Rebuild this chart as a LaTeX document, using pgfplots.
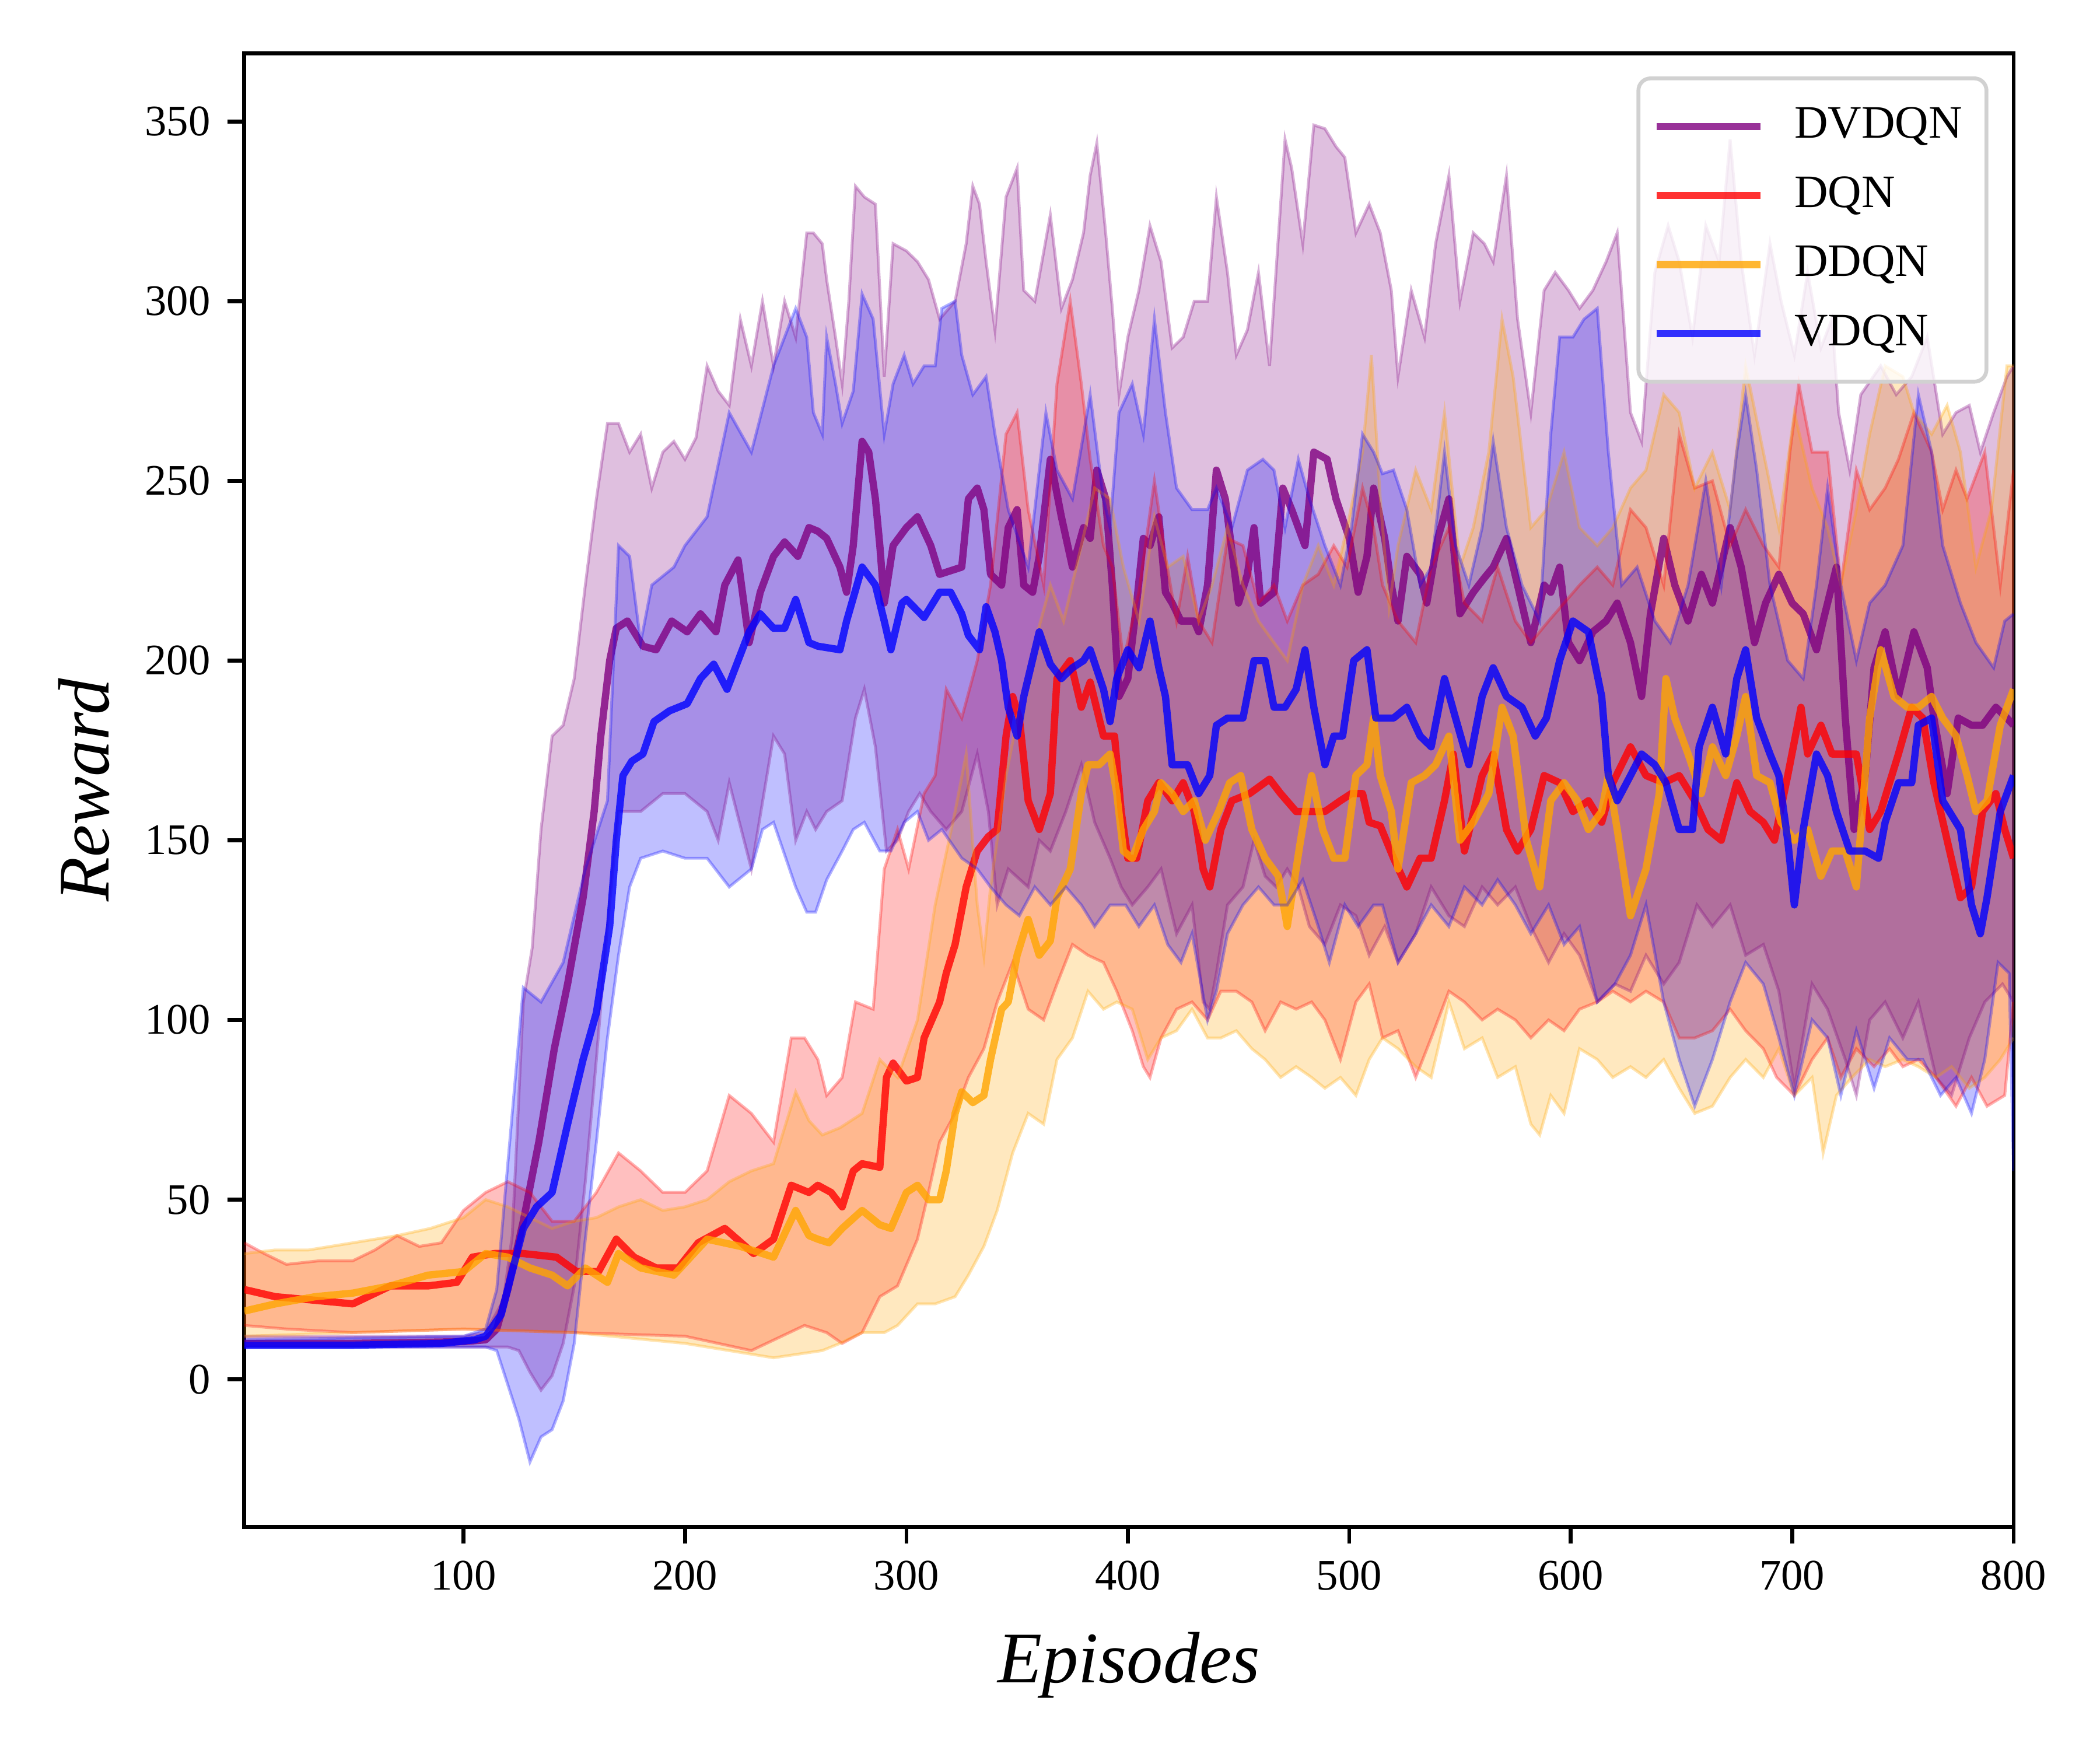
\documentclass[border=0pt]{standalone}
\usepackage{fontspec}
\setmainfont{Liberation Serif}
\usepackage{pgfplots}
\pgfplotsset{compat=1.18}
\usepgfplotslibrary{fillbetween}
\definecolor{cpur}{HTML}{800080}
\definecolor{cred}{HTML}{FF0000}
\definecolor{cora}{HTML}{FFA500}
\definecolor{cblu}{HTML}{0000FF}
\pgfplotsset{
  band/.style={draw=#1, draw opacity=0.3, line width=0.6pt, forget plot},
  bandfill/.style={fill=#1, fill opacity=0.25, draw=none, forget plot},
  meanline/.style={draw=#1, draw opacity=0.8, line width=1.5pt, line join=round},
}
\begin{document}
\begin{tikzpicture}
\begin{axis}[
  at={(0,0)}, anchor=south west,
  scale only axis, width=5.055in, height=4.21in,
  xmin=1, xmax=800, ymin=-41, ymax=369,
  xtick={100,200,...,800}, ytick={0,50,...,350},
  tick align=outside, xtick pos=bottom, ytick pos=left,
  major tick length=3.5pt,
  axis line style={line width=0.8pt},
  every tick/.style={line width=0.8pt, black},
  tick label style={font=\fontsize{9}{10}\selectfont},
  /pgf/number format/assume math mode=true,
  xlabel={\textit{Episodes}}, ylabel={\textit{Reward}},
  label style={font=\fontsize{15}{17}\selectfont},
  xlabel style={at={(axis description cs:0.5,-0.094)}, anchor=center},
  ylabel style={at={(axis description cs:-0.0905,0.5)}, anchor=center},
  legend style={at={(1,1)}, anchor=north east, xshift=-5.2pt, yshift=-4.8pt,
    draw=black!18, line width=0.8pt, rounded corners=2.5pt,
    fill=white, fill opacity=0.8, draw opacity=1, text opacity=1,
    font=\fontsize{9.6}{11}\selectfont, row sep=2.4pt, inner xsep=3pt, inner ysep=4pt},
  legend cell align=left,
  legend image code/.code={\draw[#1] (0pt,0pt) -- (21.5pt,0pt); \path (25.7pt,0pt);},
]
% ---------------- DVDQN ----------------
\addplot[band=cpur, name path=pu] coordinates {
(1,12)(50,12)(100,12)(110,13)(118,22)(122,40)(127,105)(131,120)(135,153)(140,179)(145,182)(150,195)(155,221)(160,245)(165,266)(170,266)(175,258)(180,263)(185,248)(190,258)(195,261)(200,256)(205,262)(210,282)(215,275)(220,271)(225,295)(230,282)(235,300)(240,282)(245,300)(250,290)(255,319)(258,319)(262,316)(264,306)(268,290)(271,277)(274,300)(277,332)(281,329)(286,327)(290,279)(294,316)(300,314)(305,311)(310,306)(315,295)(322,300)(327,316)(330,332)(333,327)(336,311)(340,292)(345,329)(350,337)(353,303)(358,300)(365,324)(370,298)(375,306)(380,319)(383,335)(386,344)(390,319)(393,298)(396,274)(400,290)(405,303)(410,321)(415,311)(420,287)(425,290)(430,300)(436,300)(440,329)(445,308)(449,285)(454,292)(459,308)(464,282)(471,345)(474,337)(479,316)(484,349)(489,348)(494,343)(498,340)(503,319)(509,327)(514,319)(519,303)(522,279)(528,303)(534,290)(539,316)(545,335)(550,300)(556,319)(561,316)(565,311)(571,335)(576,295)(582,269)(588,303)(593,308)(599,303)(604,298)(610,303)(616,311)(621,319)(627,269)(632,261)(638,308)(644,321)(649,311)(655,290)(661,321)(667,311)(672,345)(677,311)(683,285)(690,316)(695,300)(701,285)(707,308)(713,287)(718,295)(721,269)(726,253)(731,274)(740,282)(747,274)(754,279)(761,290)(768,263)(774,269)(780,271)(785,258)(791,269)(797,279)(800,282)
};
\addplot[band=cpur, name path=pl] coordinates {
(1,9)(100,9)(120,9)(125,8)(130,2)(135,-3)(140,1)(145,10)(150,26)(155,55)(160,89)(165,126)(170,158)(180,158)(190,163)(200,163)(210,158)(215,150)(220,166)(230,142)(240,179)(245,174)(250,150)(255,158)(259,153)(264,158)(271,161)(277,184)(281,192)(286,176)(291,147)(296,150)(301,158)(306,163)(311,158)(318,153)(325,158)(332,174)(337,158)(341,132)(346,142)(355,137)(360,150)(365,147)(372,158)(379,171)(385,155)(392,145)(397,137)(402,132)(409,137)(415,142)(422,124)(429,132)(434,105)(437,103)(440,113)(445,132)(452,137)(457,150)(462,140)(467,137)(472,142)(477,137)(482,126)(489,121)(496,132)(503,129)(509,118)(516,126)(522,116)(530,124)(537,137)(545,129)(552,126)(560,137)(567,132)(575,137)(582,126)(590,116)(597,124)(604,118)(612,105)(620,110)(627,108)(634,118)(642,110)(649,116)(657,132)(664,126)(672,132)(679,118)(687,121)(694,108)(701,81)(709,110)(716,103)(724,89)(729,79)(735,100)(742,105)(750,95)(757,105)(765,84)(772,79)(780,95)(787,105)(795,110)(800,105)
};
\addplot[bandfill=cpur] fill between[of=pu and pl];
\addplot[meanline=cpur] coordinates {
(1,10)(50,10)(100,10.5)(110,11)(115,14)(120,25)(127,44)(134,66)(141,92)(147,110)(154,134)(159,158)(162,179)(166,200)(169,209)(174,211)(181,204)(187,203)(194,211)(201,208)(207,213)(214,208)(218,221)(224,228)(229,205)(234,219)(240,229)(245,233)(251,229)(256,237)(260,236)(264,234)(270,226)(273,219)(276,232)(280,261)(283,258)(286,245)(288,232)(290,216)(294,232)(300,237)(305,240)(311,232)(315,224)(320,225)(325,226)(328,245)(332,248)(335,242)(338,224)(343,221)(346,237)(350,242)(353,221)(357,219)(360,229)(365,256)(370,240)(375,226)(380,237)(383,234)(386,253)(390,245)(393,221)(396,190)(400,195)(404,216)(407,234)(410,232)(414,240)(417,219)(420,216)(424,211)(430,211)(432,208)(436,221)(440,253)(444,245)(450,216)(454,224)(457,237)(460,216)(466,219)(470,248)(474,242)(480,232)(484,258)(490,256)(494,245)(500,234)(504,219)(508,229)(511,248)(516,234)(519,221)(522,211)(526,229)(532,224)(535,216)(540,234)(545,245)(550,213)(556,219)(561,223)(565,226)(571,234)(576,221)(582,205)(588,221)(591,219)(595,226)(599,205)(604,200)(610,208)(616,211)(621,216)(627,205)(632,190)(636,213)(642,234)(647,221)(653,211)(659,224)(664,216)(672,237)(677,226)(683,205)(688,216)(694,224)(700,216)(705,213)(711,203)(714,211)(720,226)(724,184)(728,153)(733,168)(737,198)(742,208)(748,190)(755,208)(761,198)(764,184)(770,163)(775,184)(781,182)(786,182)(792,187)(797,184)(800,182)
};
\addlegendentry{DVDQN}
% ---------------- DQN ----------------
\addplot[band=cred, name path=ru] coordinates {
(1,38)(10,35)(20,32)(35,33)(50,33)(60,36)(70,40)(80,37)(90,38)(100,47)(110,52)(120,55)(130,52)(140,44)(150,44)(160,52)(170,63)(180,58)(190,52)(200,52)(210,58)(220,79)(230,74)(240,66)(248,95)(254,95)(260,89)(264,79)(271,84)(277,105)(285,103)(290,142)(296,153)(301,142)(308,163)(313,168)(318,192)(325,184)(332,200)(338,221)(345,263)(350,269)(355,242)(362,221)(368,277)(374,300)(379,277)(383,256)(389,232)(393,226)(398,200)(405,219)(412,250)(417,229)(422,211)(427,229)(432,211)(438,205)(445,234)(452,232)(459,216)(466,221)(472,211)(479,221)(486,224)(493,232)(499,226)(506,248)(511,237)(515,221)(522,211)(530,205)(537,226)(545,237)(552,216)(560,211)(567,226)(575,211)(582,205)(590,211)(597,216)(604,221)(612,226)(619,221)(627,242)(634,237)(642,221)(649,263)(656,248)(664,250)(672,232)(679,242)(687,232)(694,226)(699,258)(703,277)(709,258)(716,258)(722,221)(729,253)(735,242)(742,248)(748,256)(755,269)(763,258)(768,242)(774,253)(779,245)(787,258)(794,221)(800,253)
};
\addplot[band=cred, name path=rl] coordinates {
(1,15)(20,14)(50,13)(100,14)(150,13)(200,12)(230,8)(254,15)(264,13)(271,10)(280,13)(288,23)(296,26)(305,39)(310,52)(315,66)(322,74)(328,84)(335,92)(341,105)(348,116)(355,103)(362,100)(368,110)(375,121)(382,118)(389,116)(395,108)(402,97)(407,87)(410,84)(415,95)(422,103)(429,105)(436,100)(442,108)(449,108)(456,105)(462,97)(469,105)(476,103)(483,105)(489,100)(496,89)(503,105)(509,110)(515,95)(522,97)(530,84)(537,95)(545,108)(552,105)(560,100)(567,103)(575,100)(582,95)(590,100)(597,97)(604,103)(612,105)(619,108)(627,105)(634,108)(642,105)(649,95)(656,95)(664,97)(672,103)(679,97)(687,92)(693,84)(701,79)(709,89)(716,95)(722,84)(729,92)(737,87)(744,92)(750,87)(757,89)(765,84)(774,76)(781,84)(788,76)(796,79)(800,105)
};
\addplot[bandfill=cred] fill between[of=ru and rl];
\addplot[meanline=cred] coordinates {
(1,25)(15,23)(33,22)(50,21)(67,26)(84,26)(97,27)(104,34)(114,35)(127,35)(142,34)(151,30)(161,30)(169,39)(177,34)(187,31)(197,31)(206,38)(218,42)(231,35)(240,39)(248,54)(256,52)(260,54)(266,52)(271,48)(276,58)(280,60)(288,59)(291,84)(294,88)(300,83)(305,84)(308,95)(315,105)(318,113)(322,121)(327,137)(332,147)(337,151)(341,153)(345,179)(348,190)(351,184)(355,161)(360,153)(365,163)(368,195)(374,200)(379,187)(383,194)(389,179)(394,179)(397,158)(400,145)(404,145)(409,161)(414,166)(420,161)(425,166)(430,158)(434,142)(437,137)(442,153)(447,161)(455,163)(464,167)(469,163)(476,158)(483,158)(489,158)(496,161)(501,163)(506,163)(509,155)(514,154)(520,145)(526,137)(532,145)(537,145)(543,161)(547,174)(552,147)(560,168)(565,174)(571,153)(576,147)(582,153)(588,168)(595,166)(601,158)(608,161)(614,155)(619,166)(627,176)(634,168)(642,166)(649,168)(656,161)(662,153)(668,150)(675,166)(681,158)(687,155)(692,150)(698,168)(704,187)(707,174)(713,182)(718,174)(724,174)(729,174)(735,153)(740,158)(748,174)(754,187)(759,184)(764,166)(770,150)(776,134)(781,137)(786,158)(792,163)(796,153)(800,145)
};
\addlegendentry{DQN}
% ---------------- DDQN ----------------
\addplot[band=cora, name path=ou] coordinates {
(1,35)(15,36)(30,36)(50,38)(70,40)(85,42)(100,45)(110,50)(120,48)(130,45)(140,42)(150,44)(160,45)(170,48)(180,50)(190,47)(200,48)(210,50)(220,55)(230,58)(240,60)(250,80)(256,72)(262,68)(270,70)(280,74)(288,89)(296,84)(305,100)(313,132)(322,158)(327,174)(332,132)(335,118)(338,137)(345,168)(351,187)(358,205)(365,221)(371,211)(379,232)(385,248)(392,245)(398,226)(405,211)(412,240)(418,226)(425,229)(432,211)(438,221)(445,237)(452,221)(459,211)(466,205)(472,200)(479,221)(486,232)(493,221)(499,237)(506,258)(510,285)(514,245)(518,215)(522,232)(530,253)(537,242)(543,269)(550,226)(556,237)(563,258)(569,295)(574,279)(582,237)(589,242)(597,258)(604,237)(612,232)(619,237)(627,248)(634,253)(642,274)(649,269)(656,248)(664,258)(672,242)(679,282)(687,258)(694,237)(701,269)(709,248)(716,237)(722,221)(729,242)(735,263)(742,282)(750,279)(755,269)(763,263)(770,271)(776,258)(783,226)(790,242)(797,282)(800,282)
};
\addplot[band=cora, name path=ol] coordinates {
(1,12)(50,13)(100,14)(150,13)(200,10)(240,6)(262,8)(270,10)(280,13)(290,13)(296,15)(305,21)(313,21)(322,23)(328,29)(335,37)(341,47)(348,63)(355,74)(362,71)(368,89)(375,95)(382,108)(389,103)(395,105)(402,103)(409,89)(415,95)(422,97)(429,103)(436,95)(442,95)(449,97)(456,92)(462,89)(469,84)(476,87)(483,84)(489,81)(496,84)(503,79)(509,89)(515,95)(522,92)(530,87)(537,84)(545,105)(552,92)(560,95)(567,84)(575,87)(582,71)(586,68)(591,79)(597,74)(604,92)(612,89)(619,84)(627,87)(634,84)(642,89)(649,81)(656,74)(664,76)(672,84)(679,89)(687,84)(694,92)(701,79)(709,84)(714,63)(720,79)(727,84)(735,89)(742,87)(750,89)(757,87)(765,84)(772,87)(780,81)(787,84)(794,89)(800,95)
};
\addplot[bandfill=cora] fill between[of=ou and ol];
\addplot[meanline=cora] coordinates {
(1,19)(15,21)(33,23)(50,24)(67,26)(84,29)(100,30)(110,35)(120,34)(130,31)(140,29)(147,26)(155,31)(165,27)(170,35)(180,31)(195,29)(210,39)(225,37)(240,34)(250,47)(256,40)(260,39)(265,38)(271,42)(280,47)(288,43)(293,42)(300,52)(305,54)(310,50)(315,50)(318,58)(322,74)(325,80)(330,77)(335,79)(338,89)(343,103)(346,105)(350,118)(355,128)(360,118)(365,122)(368,134)(374,142)(379,163)(382,171)(387,171)(392,174)(395,163)(398,147)(402,145)(407,153)(412,158)(415,166)(420,163)(425,158)(430,161)(435,150)(441,158)(446,166)(451,168)(456,153)(462,145)(468,140)(472,126)(478,150)(483,168)(488,153)(493,145)(498,145)(503,168)(508,171)(511,184)(514,168)(519,158)(522,142)(528,166)(534,168)(539,171)(545,179)(550,150)(556,155)(563,163)(569,187)(574,179)(580,150)(586,137)(591,161)(597,166)(603,161)(608,153)(614,158)(617,168)(621,153)(627,129)(634,142)(640,163)(643,195)(647,184)(653,174)(659,163)(664,176)(670,168)(675,179)(679,190)(684,168)(690,166)(695,155)(701,150)(707,153)(713,140)(718,147)(724,147)(729,137)(735,184)(740,203)(746,190)(752,187)(757,187)(763,190)(768,184)(774,179)(779,168)(783,158)(788,161)(794,182)(800,192)
};
\addlegendentry{DDQN}
% ---------------- VDQN ----------------
\addplot[band=cblu, name path=bu] coordinates {
(1,11)(100,12)(110,14)(115,25)(120,60)(127,109)(135,105)(145,116)(155,142)(165,161)(170,232)(175,229)(180,205)(185,221)(195,226)(200,232)(210,240)(220,269)(230,258)(240,282)(250,298)(255,290)(258,269)(262,263)(264,290)(268,277)(271,266)(276,275)(280,302)(285,295)(290,263)(294,277)(299,285)(303,277)(308,282)(313,282)(316,298)(322,300)(325,285)(330,274)(336,279)(340,263)(346,242)(355,226)(360,253)(363,269)(368,253)(375,245)(380,263)(383,274)(389,245)(392,237)(396,269)(402,277)(407,263)(412,295)(417,269)(422,248)(429,242)(436,242)(440,248)(447,237)(454,253)(461,256)(466,253)(471,237)(477,256)(482,245)(489,232)(496,221)(501,237)(506,263)(511,258)(515,252)(520,253)(526,242)(532,221)(537,226)(543,258)(548,232)(554,221)(560,237)(565,261)(571,237)(578,221)(586,211)(591,263)(595,290)(601,290)(606,295)(612,298)(617,258)(623,221)(630,226)(638,211)(645,205)(653,221)(661,250)(668,221)(675,258)(679,274)(684,253)(690,221)(698,200)(705,195)(711,221)(716,248)(722,221)(729,200)(735,216)(742,221)(750,232)(757,274)(763,258)(768,232)(776,216)(783,205)(791,198)(796,211)(800,213)
};
\addplot[band=cblu, name path=bl] coordinates {
(1,9)(110,9)(115,8)(125,-11)(130,-23)(135,-16)(140,-14)(145,-6)(150,10)(155,39)(160,66)(165,95)(170,118)(175,137)(180,145)(190,147)(200,145)(210,145)(220,137)(230,142)(235,153)(240,155)(250,137)(255,130)(259,130)(264,139)(271,147)(276,153)(281,155)(288,147)(293,147)(299,155)(305,158)(310,150)(316,153)(325,145)(332,142)(338,137)(345,132)(351,129)(358,137)(365,132)(372,137)(379,132)(385,126)(392,132)(399,132)(405,126)(412,132)(418,121)(424,116)(429,124)(436,100)(440,108)(445,124)(452,132)(459,137)(466,132)(472,132)(479,139)(486,126)(491,116)(498,132)(504,126)(511,132)(515,132)(522,116)(530,124)(537,132)(545,126)(552,137)(560,132)(567,139)(575,132)(582,124)(590,132)(597,121)(604,126)(612,105)(620,110)(627,118)(634,132)(642,105)(649,89)(656,76)(664,89)(672,105)(679,116)(687,110)(694,95)(701,79)(709,100)(716,95)(722,79)(729,97)(737,81)(744,95)(752,89)(759,89)(767,79)(774,84)(781,74)(787,89)(793,116)(798,113)(800,58)
};
\addplot[bandfill=cblu] fill between[of=bu and bl];
\addplot[meanline=cblu] coordinates {
(1,9.5)(50,9.5)(90,10)(105,11)(110,12)(117,18)(122,30)(127,42)(133,48)(140,52)(147,71)(154,89)(160,102)(166,126)(169,150)(172,168)(176,172)(181,174)(186,183)(193,186)(201,188)(207,195)(213,199)(219,192)(224,200)(229,208)(234,213)(240,209)(245,209)(250,217)(256,205)(260,204)(270,203)(273,211)(280,226)(286,221)(290,211)(293,203)(298,216)(300,217)(308,212)(315,219)(320,219)(325,213)(328,207)(333,203)(336,215)(340,208)(343,200)(346,187)(350,179)(353,190)(360,208)(365,199)(370,195)(375,198)(380,200)(383,203)(389,192)(392,183)(395,195)(400,203)(405,198)(410,211)(414,198)(417,190)(420,171)(427,171)(432,163)(437,168)(440,182)(445,184)(452,184)(457,200)(462,200)(466,187)(471,187)(476,192)(480,203)(484,187)(489,171)(493,179)(497,179)(502,200)(508,203)(512,184)(516,184)(520,184)(526,187)(532,179)(537,176)(543,195)(548,184)(554,171)(560,190)(565,198)(571,190)(578,187)(584,179)(589,184)(595,200)(601,211)(608,208)(614,190)(617,168)(621,161)(627,168)(632,174)(638,171)(643,166)(649,153)(655,153)(658,176)(664,187)(670,174)(675,195)(679,203)(684,184)(690,174)(694,168)(698,150)(701,132)(705,153)(711,174)(716,168)(720,158)(726,147)(733,147)(739,145)(742,155)(748,166)(754,166)(757,182)(763,184)(768,161)(776,153)(781,132)(785,124)(788,134)(794,158)(800,168)
};
\addlegendentry{VDQN}
\end{axis}
\pgfresetboundingbox
\path[use as bounding box] (-0.698in,-0.638in) rectangle (5.302in,4.362in);
\end{tikzpicture}
\end{document}
